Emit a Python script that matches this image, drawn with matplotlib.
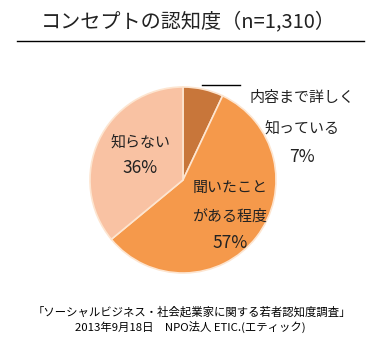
import matplotlib.pyplot as plt

plt.rcParams['font.family'] = ['Noto Sans CJK JP', 'DejaVu Sans']

# data
categories = ['内容まで詳しく\n知っている', '聞いたこと\nがある程度', '知らない']
shares = [7, 57, 36]
colors = ['#C8763A', '#F5994B', '#F9C2A3']
title = 'コンセプトの認知度（n=1,310）'
source = ['「ソーシャルビジネス・社会起業家に関する若者認知度調査」',
          '2013年9月18日　NPO法人 ETIC.(エティック)']

W, H = 381, 354
fig = plt.figure(figsize=(W / 100, H / 100), dpi=100)
ax = fig.add_axes([0, 0, 1, 1])

# title with underline
ax.text(188, H - 22, title, ha='center', va='center', fontsize=14.5, color='#222222')
ax.plot([17, 364], [H - 41, H - 41], color='black', lw=1.0)

# pie
cx, cy, r = 183, H - 180, 93
ax.pie(shares, colors=colors, startangle=90, counterclock=False,
       center=(cx, cy), radius=r, frame=True,
       wedgeprops=dict(edgecolor='#FDE5D0', linewidth=1.2))
ax.set_xlim(0, W)
ax.set_ylim(0, H)
ax.set_aspect('equal')
ax.axis('off')

# leader line for the small slice
ax.plot([202, 240], [H - 85, H - 85], color='black', lw=1)

# labels
lab_pos = [(302, [98, 128, 157]), (230, [188, 217, 243]), (140, [142, 168])]
for i, (x, ys) in enumerate(lab_pos):
    lines = categories[i].split('\n')
    for line, y in zip(lines, ys):
        ax.text(x, H - y, line, ha='center', va='center', fontsize=10.8, color='#222222')
    ax.text(x, H - ys[-1], '%d%%' % shares[i], ha='center', va='center',
            fontsize=12.5, color='#222222')

# source
ax.text(192, H - 312, source[0], ha='center', va='center', fontsize=8.2, color='black')
ax.text(190, H - 327, source[1], ha='center', va='center', fontsize=8.2, color='black')

fig.savefig('out.png', dpi=100)
